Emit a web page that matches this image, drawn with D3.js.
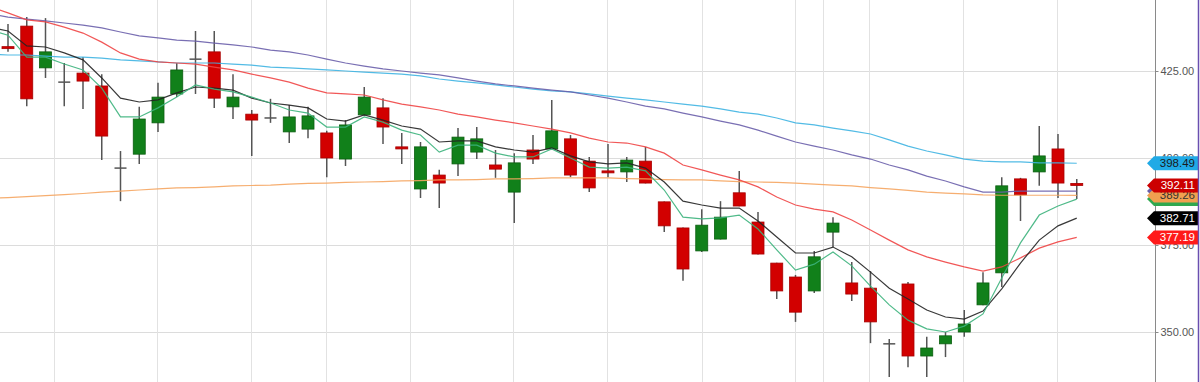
<!DOCTYPE html>
<html>
<head>
<meta charset="utf-8">
<script src="https://cdn.jsdelivr.net/npm/d3@7"></script>
<style>
  body { margin: 0; background: #fff; }
  svg { display: block; }
</style>
</head>
<body>
<div id="chart"></div>
<script>
// candles, oldest first
const opens  = [432.0, 437.9, 425.9, 421.8, 424.4, 420.7, 397.1, 401.1, 410.1, 418.4,
                428.4, 430.5, 414.7, 412.6, 411.5, 407.5, 408.3, 407.2, 399.7, 412.4,
                414.4, 403.2, 391.1, 395.1, 398.3, 401.7, 398.0, 390.2, 402.3, 402.6,
                405.5, 399.1, 396.3, 396.0, 399.1, 387.4, 379.9, 373.3, 376.7, 390.0,
                381.6, 369.8, 365.8, 361.8, 378.7, 364.1, 362.6, 346.6, 363.8, 343.1,
                346.6, 350.0, 357.8, 367.0, 394.0, 396.0, 402.6, 392.7];
const highs  = [438.5, 440.5, 440.2, 427.3, 429.0, 424.1, 402.0, 414.7, 421.6, 427.3,
                436.5, 436.5, 424.1, 413.8, 417.0, 415.2, 414.7, 407.8, 410.9, 420.4,
                417.2, 407.2, 404.6, 396.6, 408.6, 408.9, 402.3, 401.4, 406.6, 416.7,
                406.6, 400.3, 404.0, 400.3, 403.2, 387.5, 380.0, 385.3, 387.6, 396.3,
                384.5, 369.9, 366.4, 373.3, 383.0, 370.1, 367.5, 348.0, 364.4, 348.6,
                350.0, 356.3, 367.2, 394.5, 394.3, 409.2, 406.9, 394.0];
const lows   = [430.5, 414.9, 423.0, 414.9, 414.1, 399.4, 387.6, 398.3, 407.5, 417.5,
                418.4, 414.4, 411.2, 400.6, 410.1, 404.3, 405.7, 394.5, 397.7, 412.2,
                404.0, 398.3, 388.5, 385.6, 394.8, 399.7, 394.3, 381.3, 398.3, 402.5,
                394.5, 390.2, 394.5, 393.1, 392.7, 378.7, 364.7, 373.0, 376.6, 386.1,
                372.3, 359.5, 352.9, 361.2, 374.4, 358.9, 346.8, 337.1, 339.9, 337.1,
                342.8, 348.6, 357.7, 362.9, 381.9, 392.0, 388.5, 388.2];
const closes = [431.8, 417.0, 430.5, 421.8, 422.1, 406.3, 397.1, 411.2, 417.5, 425.3,
                428.4, 417.2, 417.5, 410.9, 411.5, 411.8, 412.1, 400.0, 409.5, 417.5,
                408.9, 402.6, 403.2, 392.8, 406.0, 405.5, 396.8, 398.6, 399.7, 407.8,
                395.1, 391.4, 396.0, 399.4, 392.8, 380.5, 368.1, 380.7, 383.0, 386.2,
                372.4, 361.8, 355.7, 371.6, 381.3, 360.9, 352.9, 346.6, 343.1, 345.4,
                348.9, 352.3, 364.1, 392.0, 389.4, 400.6, 392.8, 392.11];

// moving averages, first value belongs to the bar just left of the window
const avgStart = -1;
const avgGreen = [436.8, 435.3, 429.0, 429.0, 427.0, 425.3, 420.1, 411.8, 411.8, 414.4, 417.5,
                  421.0, 419.8, 419.0, 417.5, 415.8, 413.8, 412.9, 408.9, 408.9, 411.8,
                  410.3, 408.0, 406.6, 401.7, 403.7, 403.7, 401.4, 400.3, 400.3, 402.6,
                  400.0, 397.4, 397.1, 397.4, 396.3, 390.8, 383.0, 382.5, 382.8, 383.6,
                  379.6, 373.6, 367.8, 369.5, 373.0, 369.0, 363.2, 357.8, 353.4, 350.9,
                  350.0, 351.7, 355.2, 365.5, 375.6, 383.6, 386.2, 388.2];
const avgBlack = [437.6, 436.5, 432.2, 431.9, 430.2, 428.2, 423.0, 417.2, 416.1, 416.7, 418.7,
                  420.4, 420.1, 419.5, 417.2, 415.8, 415.2, 414.4, 411.2, 410.6, 412.4,
                  410.9, 409.2, 408.3, 404.6, 404.9, 404.9, 403.2, 402.3, 401.7, 402.9,
                  400.6, 398.9, 398.3, 398.6, 397.1, 393.1, 387.6, 386.5, 385.6, 385.6,
                  381.9, 377.3, 372.7, 372.7, 374.4, 371.6, 367.2, 362.6, 359.5, 356.3,
                  354.3, 353.7, 356.0, 362.4, 369.8, 376.4, 380.5, 382.71];
const avgRed   = [443.5, 441.7, 439.7, 439.1, 437.6, 435.9, 433.3, 430.2, 428.4, 427.6, 427.3,
                  427.0, 426.1, 425.3, 424.1, 423.0, 421.8, 420.1, 418.7, 418.4, 418.1,
                  416.7, 415.5, 414.7, 413.8, 412.6, 411.8, 410.9, 410.1, 409.2, 408.3,
                  407.2, 405.7, 404.6, 404.3, 403.2, 401.4, 398.0, 396.6, 395.1, 393.7,
                  391.7, 388.8, 386.5, 385.3, 384.5, 382.2, 379.3, 376.4, 373.6, 371.6,
                  370.1, 368.7, 367.5, 368.7, 371.3, 374.1, 375.9, 377.19];
const avgPurple = [441.4, 440.5, 439.9, 439.4, 438.8, 438.2, 437.4, 436.2, 435.1, 434.5, 433.9,
                   433.6, 433.0, 432.5, 431.9, 431.0, 430.5, 429.6, 428.4, 427.3, 426.4,
                   425.6, 425.0, 424.4, 423.9, 423.0, 422.1, 421.3, 420.7, 420.1, 419.5,
                   419.0, 418.1, 417.2, 416.1, 414.9, 414.1, 412.9, 411.8, 410.6, 409.5,
                   408.0, 406.3, 404.6, 403.4, 402.3, 400.9, 399.7, 398.0, 396.6, 394.8,
                   393.4, 391.7, 390.2, 390.2, 390.5, 390.5, 390.5, 390.5];
const avgBlue  = [429.9, 429.6, 429.6, 429.3, 429.0, 429.0, 428.7, 428.2, 427.9, 427.6, 427.3,
                  427.3, 427.3, 427.0, 426.7, 426.1, 425.9, 425.6, 425.3, 425.0, 424.7,
                  424.4, 424.1, 423.6, 422.7, 422.1, 421.6, 421.0, 420.4, 419.8, 419.3,
                  419.0, 418.4, 417.8, 417.2, 416.7, 416.1, 415.5, 414.9, 414.1, 413.2,
                  412.6, 411.5, 410.1, 409.5, 408.6, 407.8, 406.9, 405.2, 403.4, 402.0,
                  400.9, 399.7, 399.1, 398.9, 398.9, 398.6, 398.6, 398.49];
const avgOrange = [388.4, 388.6, 388.9, 389.2, 389.5, 389.8, 390.2, 390.5, 390.8, 391.1, 391.4,
                   391.5, 391.7, 392.0, 392.1, 392.2, 392.5, 392.7, 392.8, 393.0, 393.1,
                   393.2, 393.4, 393.5, 393.7, 393.7, 393.8, 394.0, 394.0, 394.1, 394.3,
                   394.3, 394.3, 394.3, 394.1, 394.0, 393.8, 393.7, 393.7, 393.4, 393.2,
                   393.1, 393.0, 392.8, 392.5, 392.2, 392.0, 391.5, 391.1, 390.7, 390.2,
                   389.9, 389.7, 389.4, 389.3, 389.3, 389.3, 389.3, 389.26];

const yTicks = [350, 375, 400, 425];
// vertical grid lines, in bar positions
const gridBars = [2.45, 7.95, 12.96, 16.96, 21.44, 26.93, 31.95, 37, 41.97, 43.47, 45.92, 50.93, 55.95];

const width = 1200, height = 382;
const axisX = 1155;

const svg = d3.select("#chart").append("svg")
  .attr("width", width)
  .attr("height", height);

svg.append("rect").attr("width", width).attr("height", height).attr("fill", "#fff");

const x = d3.scaleLinear().domain([0, closes.length - 1]).range([8, 1076.75]);
const y = d3.scaleLinear().domain([350, 425]).range([332, 71]);

// grid
svg.append("g").selectAll("line")
  .data(yTicks)
  .enter().append("line")
    .attr("x1", 0).attr("x2", axisX)
    .attr("y1", d => Math.round(y(d)) + 0.5).attr("y2", d => Math.round(y(d)) + 0.5)
    .attr("stroke", "#dcdcdc");

svg.append("g").selectAll("line")
  .data(gridBars)
  .enter().append("line")
    .attr("x1", d => Math.round(x(d)) + 0.5).attr("x2", d => Math.round(x(d)) + 0.5)
    .attr("y1", 0).attr("y2", height)
    .attr("stroke", "#e2e2e2");

// candles
const bars = d3.range(closes.length).map(i => ({
  i: i, o: opens[i], h: highs[i], l: lows[i], c: closes[i]
}));
const bodyW = 12;

const candle = svg.append("g").selectAll("g")
  .data(bars)
  .enter().append("g");

candle.append("line")
  .attr("x1", d => x(d.i)).attr("x2", d => x(d.i))
  .attr("y1", d => y(d.h)).attr("y2", d => y(d.l))
  .attr("stroke", "#555")
  .attr("stroke-width", 1.5);

candle.filter(d => d.o !== d.c).append("rect")
  .attr("x", d => x(d.i) - bodyW / 2)
  .attr("y", d => y(Math.max(d.o, d.c)))
  .attr("width", bodyW)
  .attr("height", d => Math.max(2, Math.abs(y(d.o) - y(d.c))))
  .attr("fill", d => d.c > d.o ? "#11801a" : "#d20000")
  .attr("stroke", d => d.c > d.o ? "#0b5e10" : "#a80000")
  .attr("stroke-width", 0.8);

candle.filter(d => d.o === d.c).append("line")
  .attr("x1", d => x(d.i) - bodyW / 2).attr("x2", d => x(d.i) + bodyW / 2)
  .attr("y1", d => y(d.c)).attr("y2", d => y(d.c))
  .attr("stroke", "#555")
  .attr("stroke-width", 1.5);

// averages
const averages = [
  { values: avgOrange, color: "#f5a561" },
  { values: avgBlue,   color: "#3fb4e2" },
  { values: avgPurple, color: "#6a5fab" },
  { values: avgRed,    color: "#ef4545" },
  { values: avgBlack,  color: "#222222" },
  { values: avgGreen,  color: "#3cb37c" }
];

const line = d3.line()
  .x((d, i) => x(i + avgStart))
  .y(d => y(d));

svg.append("g").selectAll("path")
  .data(averages)
  .enter().append("path")
    .attr("d", d => line(d.values))
    .attr("fill", "none")
    .attr("stroke", d => d.color)
    .attr("stroke-width", 1.2)
    .attr("opacity", 0.9);

// right axis
svg.append("rect")
  .attr("x", axisX).attr("y", 0)
  .attr("width", width - axisX).attr("height", height)
  .attr("fill", "#fff");

svg.append("line")
  .attr("x1", axisX + 0.5).attr("x2", axisX + 0.5)
  .attr("y1", 0).attr("y2", height)
  .attr("stroke", "#8a8a8a");

const yAxis = svg.append("g")
  .attr("transform", `translate(${axisX + 0.5},0)`)
  .call(d3.axisRight(y).tickValues(yTicks).tickFormat(d3.format(".2f")).tickSize(3).tickPadding(2));
yAxis.select(".domain").remove();
yAxis.selectAll("line").attr("stroke", "#8a8a8a");
yAxis.selectAll("text")
  .attr("fill", "#555")
  .style("font-family", "'Liberation Sans', Arial, sans-serif")
  .style("font-size", "11px");

// last value tags (purple and green ones sit under the others, no text shows)
const last = a => a[a.length - 1];
const tags = [
  { v: last(avgPurple), bg: "#6a5fab", fg: "#fff", label: false },
  { v: last(avgGreen),  bg: "#2fa84f", fg: "#fff", label: false },
  { v: last(avgOrange), bg: "#f0a050", fg: "#333", label: true },
  { v: last(closes),    bg: "#cc0000", fg: "#fff", label: true },
  { v: last(avgBlue),   bg: "#20aae6", fg: "#1a1a1a", label: true },
  { v: last(avgBlack),  bg: "#000000", fg: "#fff", label: true },
  { v: last(avgRed),    bg: "#ff1a1a", fg: "#fff", label: true }
];

const tag = svg.append("g").selectAll("g")
  .data(tags)
  .enter().append("g")
    .attr("transform", d => `translate(0,${y(d.v)})`);

tag.append("path")
  .attr("d", "M1147,0 L1154,-7 L1198,-7 L1198,7 L1154,7 Z")
  .attr("fill", d => d.bg);

tag.filter(d => d.label).append("text")
  .attr("x", 1195)
  .attr("y", 4)
  .attr("text-anchor", "end")
  .attr("fill", d => d.fg)
  .style("font-family", "'Liberation Sans', Arial, sans-serif")
  .style("font-size", "11.5px")
  .text(d => d.v.toFixed(2));

// right border
svg.append("line")
  .attr("x1", 1198.5).attr("x2", 1198.5)
  .attr("y1", 0).attr("y2", height)
  .attr("stroke", "#6a4fb0")
  .attr("stroke-width", 1.5);
</script>
</body>
</html>
